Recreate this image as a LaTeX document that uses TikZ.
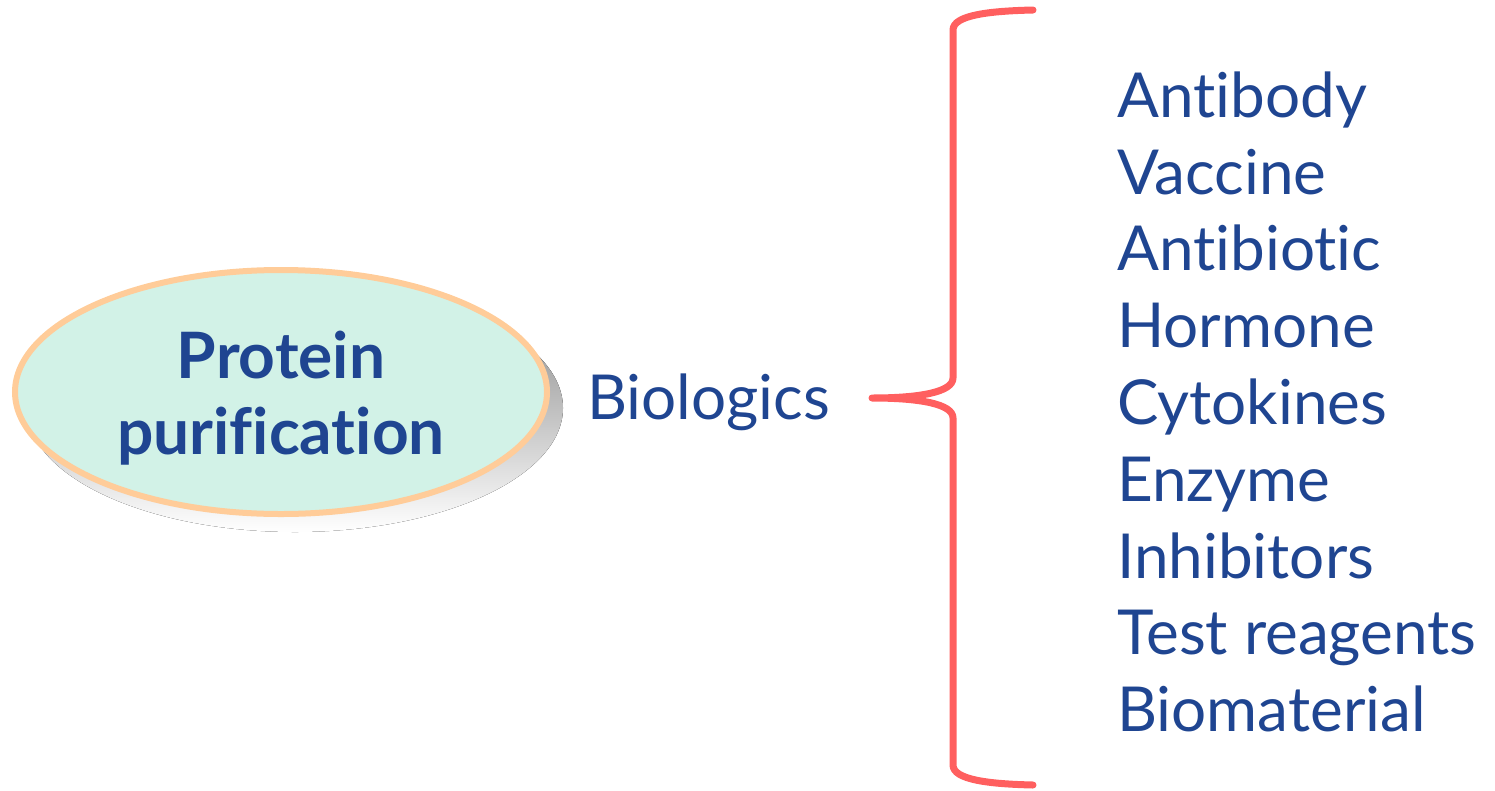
\documentclass[tikz,border=0pt]{standalone}
\usepackage{fontspec}
\setmainfont{Lato}[Ligatures={NoCommon}]
\definecolor{ink}{HTML}{1F4591}
\definecolor{bracered}{HTML}{FF5F5F}
\definecolor{mint}{HTML}{D2F2E7}
\definecolor{peach}{HTML}{FFCC99}
\definecolor{shade}{HTML}{E6E6E6}
\tikzset{
  label text/.style={font=\fontsize{62}{62}\selectfont, text=ink, inner sep=0pt, anchor=base west},
  title text/.style={font=\fontsize{64}{76}\selectfont\bfseries, text=ink, align=center, inner sep=0pt},
  brace line/.style={draw=bracered, line width=7pt, line cap=round, line join=round},
}
\begin{document}
\begin{tikzpicture}[x=1pt, y=-1pt]
  \useasboundingbox (0,0) rectangle (1495,790);
  % ellipse with soft grey shadow
  \fill[shade] (295,408) ellipse [x radius=268, y radius=124];
  \draw[fill=mint, draw=peach, line width=6pt] (281,392) ellipse [x radius=266, y radius=122];
  \node[title text] (title) at (281,398) {Protein\\purification};
  % category label
  \node[label text] (bio) at (587,419) {Biologics};
  % curly brace
  \coordinate (tip) at (872,398);
  \coordinate (top) at (1033,10);
  \coordinate (bot) at (1033,785);
  \draw[brace line] (top) .. controls (990,11) and (953,15) .. (953,30)
    -- (953,378) .. controls (953,392) and (920,398) .. (tip)
    .. controls (920,398) and (953,404) .. (953,418)
    -- (953,765) .. controls (953,780) and (990,784) .. (bot);
  % list of biologics
  \node[label text] (i1) at (1117,117) {Antibody};
  \node[label text] (i2) at (1117,194) {Vaccine};
  \node[label text] (i3) at (1117,270) {Antibiotic};
  \node[label text] (i4) at (1117,347) {Hormone};
  \node[label text] (i5) at (1117,424) {Cytokines};
  \node[label text] (i6) at (1117,501) {Enzyme};
  \node[label text] (i7) at (1117,578) {Inhibitors};
  \node[label text] (i8) at (1117,654) {Test reagents};
  \node[label text] (i9) at (1117,731) {Biomaterial};
\end{tikzpicture}
\end{document}
